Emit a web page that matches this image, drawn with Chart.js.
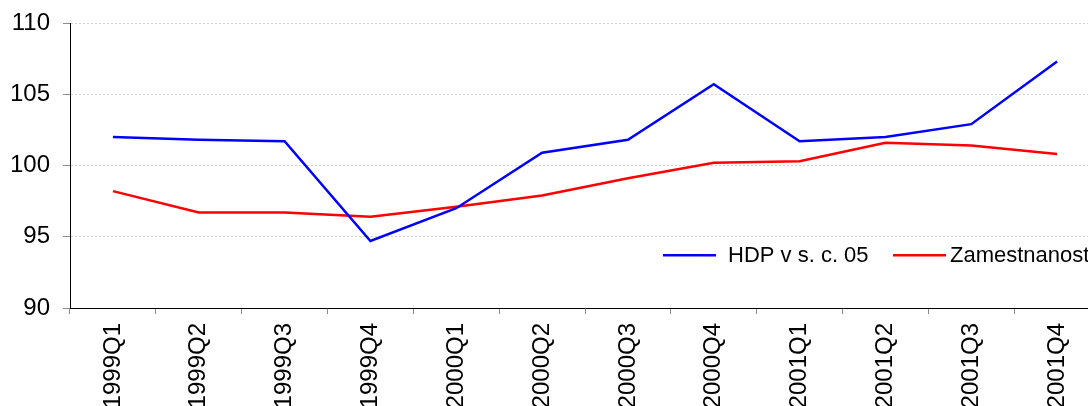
<!DOCTYPE html>
<html>
<head>
<meta charset="utf-8">
<script src="https://cdn.jsdelivr.net/npm/chart.js@4"></script>
<style>
  html, body { margin: 0; padding: 0; background: #fff; overflow: hidden; }
  .wrap { width: 1088px; height: 406px; overflow: hidden; position: relative; }
  canvas { display: block; }
</style>
</head>
<body>
<div class="wrap">
  <canvas id="chart" width="1100" height="406"></canvas>
</div>
<script>
// --- DATA ---
const quarters = ['1999Q1', '1999Q2', '1999Q3', '1999Q4', '2000Q1', '2000Q2',
                  '2000Q3', '2000Q4', '2001Q1', '2001Q2', '2001Q3', '2001Q4'];
const hdpValues = [102.0, 101.8, 101.7, 94.7, 97.0, 100.9, 101.8, 105.7, 101.7, 102.0, 102.9, 107.3];
const zamValues = [98.2, 96.7, 96.7, 96.4, 97.1, 97.9, 99.1, 100.2, 100.3, 101.6, 101.4, 100.8];
const seriesNames = ['HDP v s. c. 05', 'Zamestnanost'];
const yTicks = [90, 95, 100, 105, 110];

const FONT = '"Liberation Sans", Arial, sans-serif';

// legenda vo vnutri grafu (ako v Exceli)
const insideLegend = {
    id: 'insideLegend',
    afterDraw(chart) {
        const ctx = chart.ctx;
        const y = chart.scales.y.getPixelForValue(93.7);
        const starts = [663, 893];
        const gaps = [12, 4];
        ctx.save();
        ctx.font = '22px ' + FONT;
        ctx.textBaseline = 'middle';
        ctx.fillStyle = '#000';
        chart.data.datasets.forEach((ds, i) => {
            ctx.strokeStyle = ds.borderColor;
            ctx.lineWidth = 2.5;
            ctx.beginPath();
            ctx.moveTo(starts[i], y);
            ctx.lineTo(starts[i] + 53, y);
            ctx.stroke();
            ctx.fillText(ds.label, starts[i] + 53 + gaps[i], y + 1);
        });
        ctx.restore();
    }
};

new Chart(document.getElementById('chart'), {
    type: 'line',
    data: {
        labels: quarters,
        datasets: [
            { label: seriesNames[0], data: hdpValues, borderColor: '#0000ff', borderWidth: 2.5, pointRadius: 0, tension: 0, fill: false },
            { label: seriesNames[1], data: zamValues, borderColor: '#ff0000', borderWidth: 2.5, pointRadius: 0, tension: 0, fill: false }
        ]
    },
    options: {
        responsive: false, animation: false, devicePixelRatio: 1,
        layout: { padding: { left: 12, top: 23, right: 0, bottom: 0 } },
        plugins: { legend: { display: false }, tooltip: { enabled: false } },
        scales: {
            x: {
                offset: true,
                afterFit: axis => { axis.height = 98; axis.paddingLeft = 0; axis.paddingRight = 0; },
                grid: { offset: true, drawOnChartArea: false, drawTicks: true, tickLength: 6, tickColor: '#8c8c8c', tickBorderDash: [] },
                border: { color: '#000', width: 1 },
                ticks: { autoSkip: false, minRotation: 90, maxRotation: 90, padding: 9, color: '#000', font: { family: FONT, size: 24 } }
            },
            y: {
                min: yTicks[0], max: yTicks[yTicks.length - 1],
                afterBuildTicks: axis => { axis.ticks = yTicks.map(v => ({ value: v })); },
                afterFit: axis => { axis.width = 58; axis.paddingTop = 0; axis.paddingBottom = 0; },
                grid: { color: '#d4d4d4', lineWidth: 1, tickLength: 7, tickColor: '#8c8c8c', tickBorderDash: [] },
                border: { color: '#000', width: 1, dash: [2, 2] },
                ticks: { padding: 13, color: '#000', font: { family: FONT, size: 24 } }
            }
        }
    },
    plugins: [insideLegend]
});
</script>
</body>
</html>
